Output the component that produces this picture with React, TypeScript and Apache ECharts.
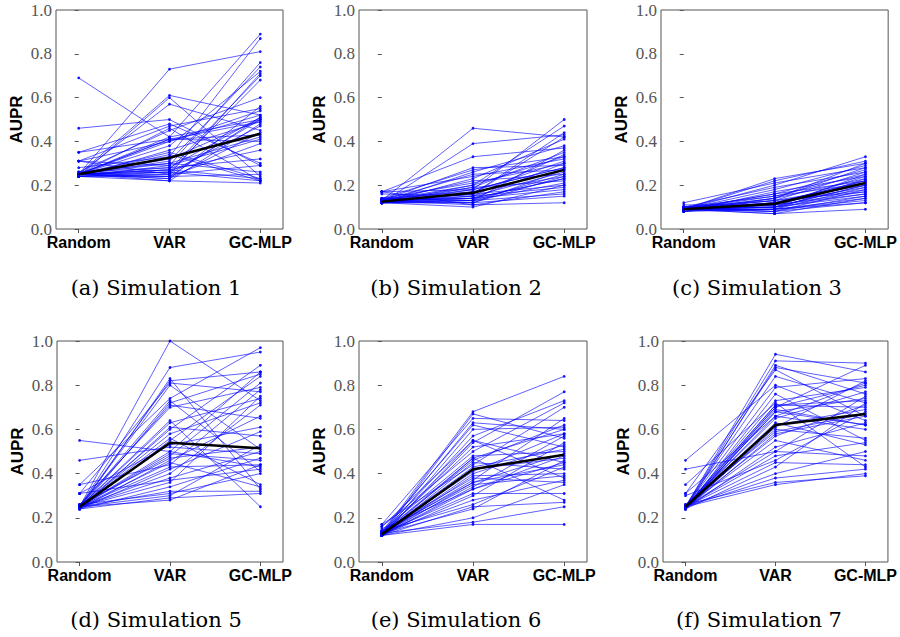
import React, { useEffect, useRef } from "react";
import * as echarts from "echarts";

const methods = ["Random", "VAR", "GC-MLP"];
const captions = [
  "(a) Simulation 1",
  "(b) Simulation 2",
  "(c) Simulation 3",
  "(d) Simulation 5",
  "(e) Simulation 6",
  "(f) Simulation 7",
];

// Simulation 1
const s1Random = [0.25, 0.25, 0.24, 0.25, 0.69, 0.46, 0.35, 0.31, 0.25, 0.26, 0.25, 0.25, 0.31, 0.25, 0.24, 0.25, 0.28, 0.25, 0.25, 0.25, 0.24, 0.26, 0.25, 0.25, 0.24, 0.25, 0.25, 0.31, 0.25, 0.24, 0.25, 0.25, 0.25, 0.24, 0.25, 0.26, 0.25, 0.25, 0.35, 0.25, 0.24, 0.31, 0.25, 0.25, 0.25];
const s1Var = [0.73, 0.61, 0.6, 0.57, 0.42, 0.5, 0.48, 0.47, 0.46, 0.45, 0.42, 0.41, 0.4, 0.38, 0.36, 0.35, 0.33, 0.32, 0.31, 0.3, 0.29, 0.28, 0.27, 0.27, 0.26, 0.26, 0.25, 0.25, 0.24, 0.24, 0.23, 0.23, 0.22, 0.22, 0.28, 0.3, 0.34, 0.4, 0.41, 0.27, 0.25, 0.29, 0.26, 0.41, 0.24];
const s1Gc = [0.81, 0.52, 0.24, 0.45, 0.5, 0.29, 0.3, 0.55, 0.22, 0.6, 0.89, 0.4, 0.54, 0.72, 0.49, 0.23, 0.87, 0.5, 0.74, 0.42, 0.76, 0.51, 0.7, 0.36, 0.68, 0.47, 0.71, 0.5, 0.39, 0.25, 0.56, 0.44, 0.21, 0.48, 0.32, 0.26, 0.22, 0.52, 0.43, 0.23, 0.29, 0.41, 0.22, 0.49, 0.51];
const s1Mean = [0.25, 0.325, 0.435];

// Simulation 2
const s2Random = [0.13, 0.12, 0.17, 0.13, 0.14, 0.12, 0.13, 0.17, 0.12, 0.13, 0.14, 0.12, 0.13, 0.12, 0.17, 0.13, 0.12, 0.14, 0.13, 0.12, 0.13, 0.12, 0.16, 0.13, 0.12, 0.13, 0.14, 0.12, 0.13, 0.12, 0.13, 0.12, 0.17, 0.13, 0.12, 0.13, 0.12, 0.14, 0.13, 0.12];
const s2Var = [0.46, 0.39, 0.33, 0.28, 0.27, 0.26, 0.25, 0.24, 0.23, 0.22, 0.21, 0.2, 0.19, 0.19, 0.18, 0.18, 0.17, 0.17, 0.16, 0.16, 0.15, 0.15, 0.15, 0.14, 0.14, 0.14, 0.13, 0.13, 0.13, 0.12, 0.12, 0.12, 0.11, 0.11, 0.1, 0.16, 0.18, 0.14, 0.2, 0.13];
const s2Gc = [0.42, 0.43, 0.37, 0.29, 0.33, 0.38, 0.27, 0.32, 0.41, 0.25, 0.3, 0.47, 0.22, 0.35, 0.28, 0.5, 0.24, 0.31, 0.2, 0.44, 0.26, 0.19, 0.34, 0.23, 0.18, 0.3, 0.21, 0.36, 0.16, 0.27, 0.15, 0.24, 0.17, 0.12, 0.2, 0.42, 0.28, 0.23, 0.33, 0.25];
const s2Mean = [0.125, 0.165, 0.27];

// Simulation 3
const s3Random = [0.09, 0.09, 0.12, 0.09, 0.1, 0.09, 0.08, 0.09, 0.09, 0.1, 0.09, 0.09, 0.08, 0.09, 0.1, 0.09, 0.09, 0.09, 0.11, 0.09, 0.08, 0.09, 0.09, 0.1, 0.09, 0.09, 0.09, 0.08, 0.09, 0.09, 0.1, 0.09, 0.09, 0.09, 0.08, 0.09, 0.09, 0.1, 0.09, 0.09];
const s3Var = [0.23, 0.22, 0.21, 0.2, 0.19, 0.18, 0.17, 0.16, 0.16, 0.15, 0.15, 0.14, 0.14, 0.13, 0.13, 0.12, 0.12, 0.12, 0.11, 0.11, 0.11, 0.1, 0.1, 0.1, 0.1, 0.09, 0.09, 0.09, 0.09, 0.08, 0.08, 0.08, 0.07, 0.07, 0.12, 0.13, 0.1, 0.11, 0.14, 0.09];
const s3Gc = [0.3, 0.31, 0.28, 0.33, 0.26, 0.29, 0.24, 0.27, 0.22, 0.25, 0.21, 0.3, 0.23, 0.2, 0.26, 0.19, 0.22, 0.18, 0.24, 0.17, 0.21, 0.16, 0.2, 0.15, 0.25, 0.14, 0.19, 0.13, 0.23, 0.12, 0.18, 0.15, 0.09, 0.14, 0.22, 0.17, 0.2, 0.16, 0.28, 0.12];
const s3Mean = [0.09, 0.115, 0.21];

// Simulation 5
const s5Random = [0.25, 0.25, 0.24, 0.25, 0.31, 0.25, 0.35, 0.25, 0.24, 0.25, 0.26, 0.25, 0.55, 0.25, 0.24, 0.25, 0.46, 0.25, 0.25, 0.24, 0.31, 0.25, 0.25, 0.26, 0.24, 0.25, 0.35, 0.25, 0.24, 0.25, 0.25, 0.31, 0.25, 0.24, 0.25, 0.26, 0.25, 0.24, 0.25, 0.25];
const s5Var = [1.0, 0.88, 0.83, 0.82, 0.81, 0.8, 0.74, 0.73, 0.72, 0.71, 0.7, 0.64, 0.5, 0.63, 0.61, 0.6, 0.52, 0.58, 0.56, 0.55, 0.53, 0.49, 0.48, 0.47, 0.46, 0.45, 0.44, 0.43, 0.42, 0.4, 0.38, 0.37, 0.36, 0.34, 0.32, 0.31, 0.3, 0.29, 0.28, 0.5];
const s5Gc = [0.73, 0.95, 0.33, 0.86, 0.77, 0.51, 0.97, 0.41, 0.85, 0.65, 0.79, 0.25, 0.43, 0.74, 0.57, 0.89, 0.49, 0.72, 0.35, 0.84, 0.61, 0.46, 0.81, 0.52, 0.66, 0.34, 0.78, 0.44, 0.59, 0.71, 0.5, 0.42, 0.75, 0.47, 0.32, 0.4, 0.53, 0.31, 0.44, 0.86];
const s5Mean = [0.25, 0.54, 0.515];

// Simulation 6
const s6Random = [0.13, 0.12, 0.17, 0.13, 0.14, 0.12, 0.13, 0.16, 0.12, 0.13, 0.14, 0.12, 0.13, 0.12, 0.17, 0.13, 0.12, 0.14, 0.13, 0.12, 0.13, 0.12, 0.15, 0.13, 0.12, 0.13, 0.14, 0.12, 0.13, 0.12, 0.13, 0.12, 0.16, 0.13, 0.12, 0.13, 0.12, 0.14, 0.13, 0.12];
const s6Var = [0.68, 0.67, 0.65, 0.63, 0.62, 0.6, 0.57, 0.55, 0.54, 0.52, 0.48, 0.47, 0.46, 0.45, 0.44, 0.42, 0.4, 0.38, 0.37, 0.36, 0.35, 0.34, 0.33, 0.31, 0.3, 0.28, 0.26, 0.25, 0.24, 0.2, 0.18, 0.17, 0.5, 0.43, 0.39, 0.47, 0.55, 0.36, 0.41, 0.33];
const s6Gc = [0.84, 0.56, 0.64, 0.6, 0.52, 0.61, 0.73, 0.45, 0.77, 0.58, 0.5, 0.28, 0.62, 0.42, 0.7, 0.47, 0.53, 0.36, 0.65, 0.44, 0.39, 0.57, 0.48, 0.31, 0.54, 0.37, 0.43, 0.27, 0.46, 0.35, 0.25, 0.17, 0.72, 0.51, 0.4, 0.6, 0.38, 0.49, 0.58, 0.45];
const s6Mean = [0.125, 0.42, 0.485];

// Simulation 7
const s7Random = [0.25, 0.25, 0.24, 0.25, 0.31, 0.25, 0.46, 0.25, 0.24, 0.25, 0.35, 0.25, 0.42, 0.25, 0.24, 0.25, 0.31, 0.25, 0.25, 0.24, 0.26, 0.25, 0.25, 0.24, 0.25, 0.25, 0.3, 0.25, 0.24, 0.25, 0.25, 0.26, 0.25, 0.24, 0.25, 0.25, 0.24, 0.25, 0.25, 0.24];
const s7Var = [0.94, 0.91, 0.89, 0.88, 0.87, 0.84, 0.8, 0.79, 0.76, 0.73, 0.72, 0.71, 0.5, 0.7, 0.69, 0.68, 0.66, 0.65, 0.63, 0.61, 0.59, 0.57, 0.55, 0.52, 0.5, 0.48, 0.46, 0.45, 0.43, 0.4, 0.38, 0.36, 0.35, 0.7, 0.71, 0.68, 0.62, 0.6, 0.66, 0.58];
const s7Gc = [0.86, 0.9, 0.76, 0.81, 0.66, 0.72, 0.64, 0.83, 0.55, 0.79, 0.43, 0.7, 0.48, 0.89, 0.62, 0.74, 0.6, 0.77, 0.53, 0.82, 0.67, 0.71, 0.46, 0.63, 0.75, 0.54, 0.68, 0.44, 0.72, 0.5, 0.42, 0.39, 0.4, 0.8, 0.73, 0.62, 0.69, 0.56, 0.81, 0.66];
const s7Mean = [0.25, 0.62, 0.67];

const panels = [
  { r: s1Random, v: s1Var, g: s1Gc, m: s1Mean },
  { r: s2Random, v: s2Var, g: s2Gc, m: s2Mean },
  { r: s3Random, v: s3Var, g: s3Gc, m: s3Mean },
  { r: s5Random, v: s5Var, g: s5Gc, m: s5Mean },
  { r: s6Random, v: s6Var, g: s6Gc, m: s6Mean },
  { r: s7Random, v: s7Var, g: s7Gc, m: s7Mean },
];

const gridBoxes = [
  { left: 56, top: 10, width: 227, height: 219 },
  { left: 359, top: 10, width: 228, height: 219 },
  { left: 661, top: 10, width: 228, height: 219 },
  { left: 57, top: 341, width: 226, height: 221 },
  { left: 359, top: 341, width: 228, height: 221 },
  { left: 663, top: 341, width: 227, height: 221 },
];
const captionPos = [
  { x: 156, y: 288 },
  { x: 456, y: 288 },
  { x: 757, y: 288 },
  { x: 156, y: 620 },
  { x: 456, y: 620 },
  { x: 759, y: 620 },
];

export default function App() {
  const ref = useRef<HTMLDivElement>(null);
  useEffect(() => {
    document.body.style.margin = "0";
    const chart = echarts.init(ref.current!, null, { renderer: "svg" });
    const grid: any[] = [];
    const xAxis: any[] = [];
    const yAxis: any[] = [];
    const series: any[] = [];
    const graphic: any[] = [];
    panels.forEach((p, i) => {
      grid.push({ ...gridBoxes[i], show: true, borderColor: "#555", borderWidth: 1, containLabel: false });
      xAxis.push({
        type: "value",
        gridIndex: i,
        min: -0.25,
        max: 2.25,
        splitLine: { show: false },
        axisLine: { show: false },
        axisTick: { show: true, customValues: [0, 1, 2], length: 4, lineStyle: { color: "#555" } },
        axisLabel: {
          customValues: [0, 1, 2],
          formatter: (v: number) => methods[Math.round(v)] ?? "",
          fontFamily: "Liberation Sans",
          fontWeight: "bold",
          fontSize: 16,
          color: "#000",
          margin: 5,
        },
      });
      yAxis.push({
        type: "value",
        gridIndex: i,
        min: 0,
        max: 1,
        interval: 0.2,
        name: "AUPR",
        nameLocation: "middle",
        nameGap: 31,
        nameRotate: 90,
        nameTextStyle: { fontFamily: "Liberation Sans", fontWeight: "bold", fontSize: 17, color: "#000" },
        splitLine: { show: false },
        axisLine: { show: false },
        axisTick: { show: true, length: 4, inside: false, lineStyle: { color: "#555" } },
        axisLabel: {
          formatter: (v: number) => v.toFixed(1),
          fontFamily: "Liberation Serif",
          fontSize: 17,
          color: "#555",
          margin: 4,
          showMinLabel: true,
          showMaxLabel: true,
        },
      });
      for (let k = 0; k < p.r.length; k++) {
        series.push({
          type: "line",
          xAxisIndex: i,
          yAxisIndex: i,
          data: [
            [0, p.r[k]],
            [1, p.v[k]],
            [2, p.g[k]],
          ],
          symbol: "circle",
          symbolSize: 2.8,
          showSymbol: true,
          lineStyle: { color: "#0000ff", width: 0.9, opacity: 0.7 },
          itemStyle: { color: "#0000ff", opacity: 0.9 },
          silent: true,
          z: 2,
        });
      }
      series.push({
        type: "line",
        xAxisIndex: i,
        yAxisIndex: i,
        data: p.m.map((v, j) => [j, v]),
        symbol: "none",
        lineStyle: { color: "#000", width: 2.5 },
        silent: true,
        z: 5,
      });
      graphic.push({
        type: "text",
        x: captionPos[i].x,
        y: captionPos[i].y,
        style: {
          text: captions[i],
          fontFamily: "DejaVu Serif",
          fontSize: 21,
          fill: "#000",
          align: "center",
          verticalAlign: "middle",
        },
      });
    });
    chart.setOption({ animation: false, grid, xAxis, yAxis, series, graphic });
    return () => chart.dispose();
  }, []);
  return <div ref={ref} style={{ position: "fixed", left: 0, top: 0, width: 900, height: 637, background: "#fff" }} />;
}
